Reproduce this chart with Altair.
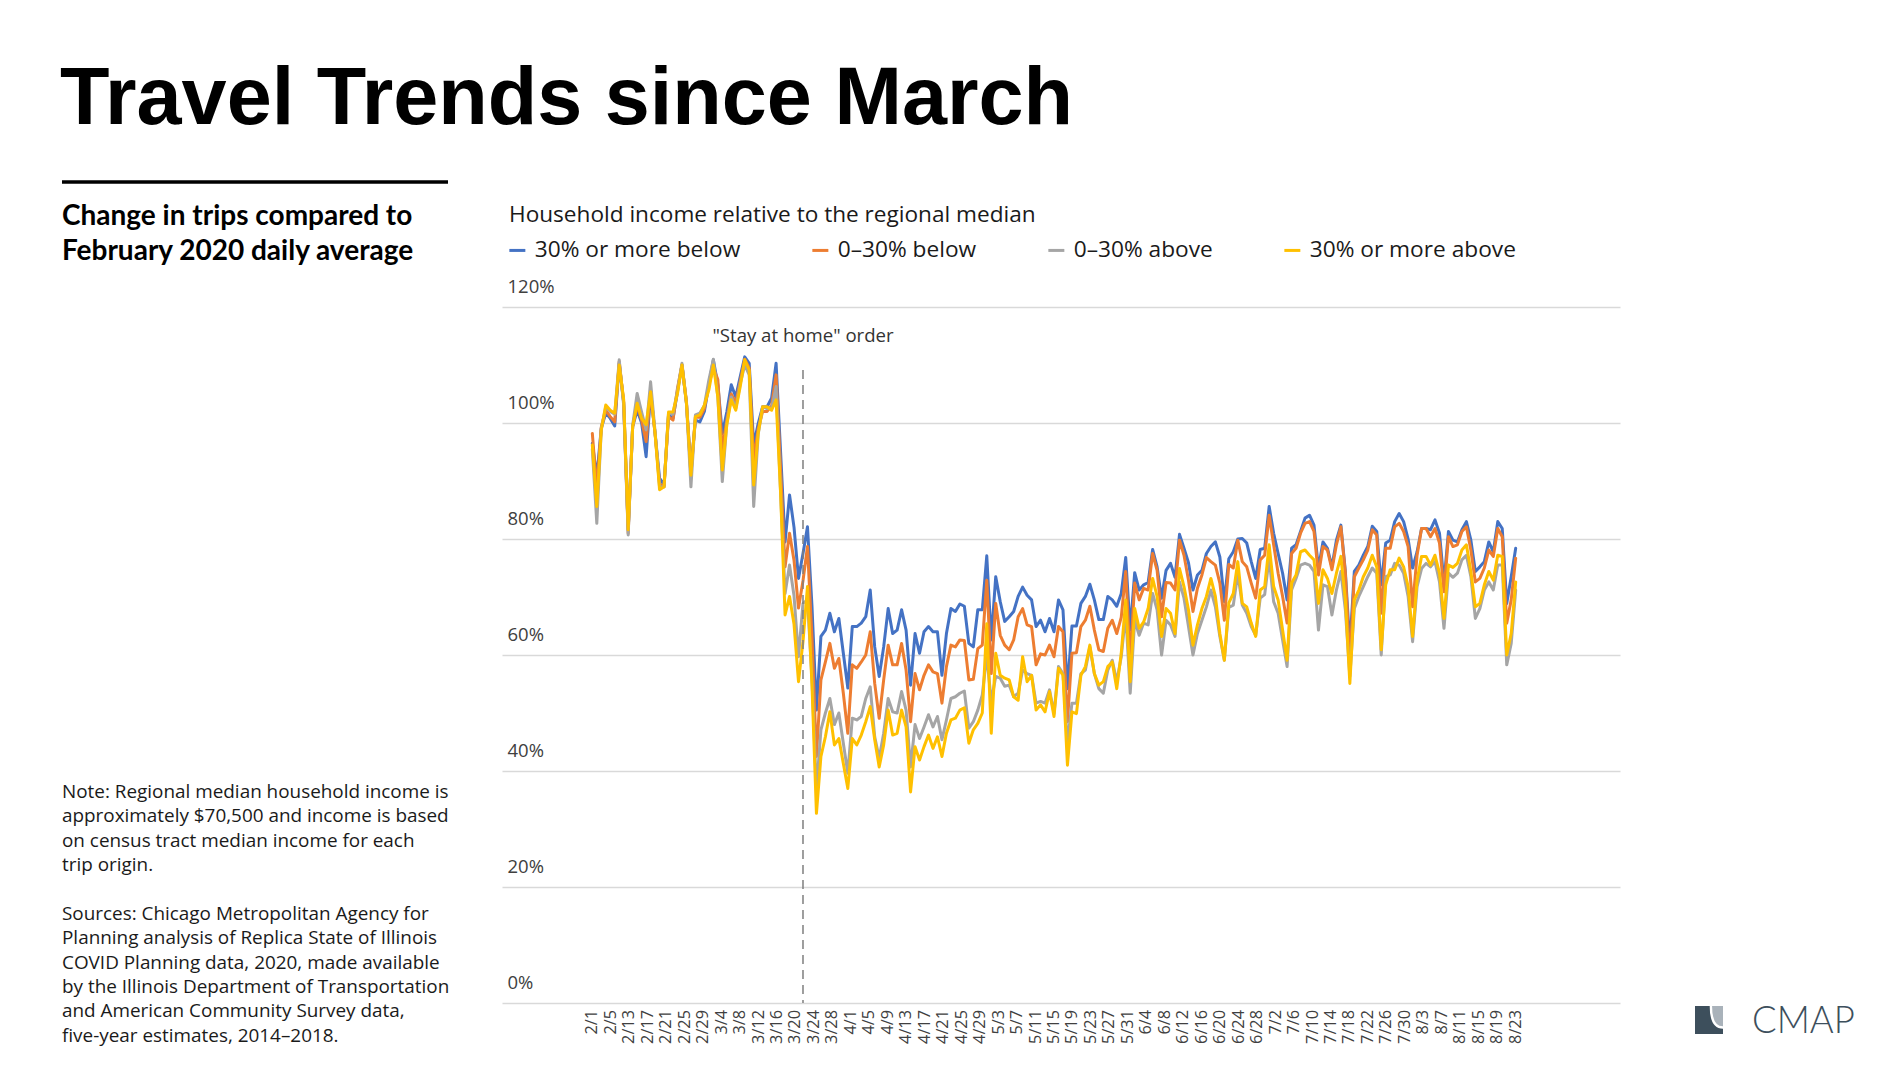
import json
import altair as alt
import pandas as pd

# ---------------- data ----------------
series_names = ["30% or more below", "0–30% below", "0–30% above", "30% or more above"]
series_colors = ["#4472C4", "#ED7D31", "#A5A5A5", "#FFC000"]

blue = [
    96.5, 90.7, 99.1, 101.7, 100.8, 99.5, 110.3, 103.5, 81.5, 99.4,
    102.2, 100.0, 94.2, 105.2, 98.2, 90.5, 89.3, 101.4, 100.8, 105.4,
    110.0, 103.4, 92.0, 100.5, 100.2, 102.0, 106.6, 110.9, 106.6, 98.2,
    101.9, 106.6, 104.5, 108.0, 111.4, 110.3, 96.2, 99.9, 102.8, 102.8,
    104.3, 110.3, 95.0, 79.5, 87.6, 82.0, 73.2, 77.5, 82.1, 68.5,
    50.5, 63.2, 64.3, 67.2, 64.0, 66.3, 60.3, 54.3, 64.9, 64.9,
    65.5, 66.6, 71.2, 61.4, 56.3, 61.4, 68.0, 63.7, 64.3, 67.8,
    64.3, 54.8, 63.7, 60.3, 64.0, 64.9, 64.0, 64.0, 56.5, 63.7,
    68.0, 67.5, 68.8, 68.4, 62.0, 61.4, 67.8, 67.8, 77.1, 62.6,
    73.5, 69.2, 65.8, 66.6, 67.5, 70.1, 71.7, 70.3, 69.5, 64.9,
    66.0, 64.0, 66.3, 64.0, 69.5, 67.8, 54.2, 65.0, 65.0, 68.9,
    70.1, 72.2, 69.5, 66.1, 66.1, 70.1, 69.5, 68.4, 70.6, 76.8,
    64.3, 74.2, 71.2, 72.1, 72.5, 78.2, 75.2, 69.8, 74.6, 75.8,
    73.4, 80.8, 78.4, 75.9, 71.2, 73.8, 74.6, 77.5, 78.7, 79.5,
    76.9, 69.2, 76.6, 77.8, 80.0, 80.1, 79.3, 76.1, 73.2, 78.2,
    78.4, 85.6, 81.0, 77.5, 74.1, 69.5, 78.4, 79.0, 81.3, 83.6,
    84.1, 82.4, 74.9, 79.5, 78.4, 75.2, 79.8, 82.4, 74.4, 61.4,
    74.4, 75.5, 77.2, 78.7, 82.2, 81.3, 72.1, 79.3, 79.8, 83.0,
    84.4, 83.0, 80.0, 75.0, 77.8, 81.8, 81.8, 81.6, 83.3, 81.0,
    72.4, 81.3, 79.8, 79.5, 81.6, 83.0, 79.8, 74.4, 75.2, 76.1,
    79.5, 77.8, 83.0, 81.8, 68.9, 73.5, 78.4,
]

orange = [
    98.2, 88.5, 99.3, 102.2, 101.1, 100.2, 110.6, 103.5, 81.0, 99.4,
    103.0, 100.5, 96.8, 105.4, 98.2, 89.5, 89.0, 101.1, 100.5, 106.0,
    110.0, 103.7, 91.0, 101.0, 101.0, 102.5, 106.6, 109.5, 107.5, 95.4,
    100.5, 105.0, 103.5, 107.2, 111.0, 109.5, 93.6, 99.0, 102.0, 102.0,
    103.0, 108.3, 92.0, 75.2, 81.0, 76.3, 68.1, 72.8, 78.7, 63.0,
    42.5, 55.7, 58.8, 62.0, 57.7, 59.4, 53.4, 46.5, 58.3, 57.7,
    58.8, 60.0, 64.0, 55.1, 49.1, 55.7, 61.7, 58.3, 58.3, 62.0,
    57.4, 48.5, 56.8, 54.0, 56.5, 58.3, 57.1, 56.8, 51.7, 58.0,
    61.7, 61.4, 62.6, 62.5, 55.7, 55.8, 61.1, 61.7, 72.9, 56.8,
    68.9, 63.4, 61.7, 60.9, 62.6, 66.6, 68.0, 65.2, 64.9, 58.3,
    60.2, 60.0, 61.7, 59.7, 64.9, 64.0, 48.5, 60.3, 60.4, 64.9,
    66.0, 68.4, 64.3, 60.9, 60.6, 64.6, 66.0, 63.7, 66.5, 74.4,
    59.1, 72.4, 69.5, 71.5, 71.2, 77.5, 74.6, 66.6, 72.5, 72.4,
    71.2, 79.8, 77.2, 72.9, 67.5, 71.5, 73.8, 76.8, 76.1, 75.5,
    72.4, 66.0, 75.6, 75.0, 79.8, 76.1, 75.2, 72.4, 69.8, 76.4,
    77.2, 84.1, 79.0, 74.1, 70.1, 65.5, 77.5, 78.4, 81.0, 82.7,
    83.0, 81.3, 73.8, 78.7, 78.1, 74.7, 79.0, 82.1, 74.1, 58.6,
    73.5, 75.0, 76.4, 78.1, 81.6, 80.7, 67.2, 78.4, 78.4, 82.1,
    82.7, 81.3, 78.7, 68.3, 77.2, 81.8, 81.8, 80.4, 81.8, 79.3,
    70.9, 80.4, 78.7, 79.0, 81.3, 82.1, 78.1, 72.6, 73.2, 75.0,
    78.1, 77.0, 81.8, 80.4, 65.5, 69.5, 76.7,
]

gray = [
    95.5, 82.7, 99.0, 102.8, 102.0, 101.5, 110.9, 103.0, 80.7, 99.6,
    105.1, 101.9, 98.8, 107.1, 98.5, 89.0, 89.0, 101.7, 101.5, 105.7,
    110.3, 103.4, 89.0, 101.4, 101.7, 103.0, 107.4, 111.0, 104.5, 89.9,
    99.9, 104.5, 102.5, 106.8, 110.0, 108.3, 85.6, 98.0, 102.8, 102.5,
    102.5, 106.3, 88.0, 70.6, 75.5, 70.2, 59.7, 68.9, 69.5, 55.9,
    36.7, 47.1, 50.0, 52.5, 48.0, 50.0, 44.8, 39.6, 49.1, 48.8,
    49.4, 52.5, 54.5, 45.9, 42.2, 46.5, 52.5, 50.2, 50.0, 53.7,
    50.5, 40.7, 48.0, 45.6, 47.6, 49.7, 47.6, 49.4, 45.4, 48.8,
    52.5, 52.8, 53.4, 53.8, 47.4, 48.5, 50.5, 53.1, 60.0, 52.0,
    56.3, 56.0, 54.6, 54.8, 52.8, 53.4, 57.4, 56.8, 56.5, 51.7,
    52.0, 51.7, 54.0, 49.9, 58.0, 56.8, 44.8, 51.7, 51.7, 56.8,
    57.4, 61.4, 56.8, 54.2, 53.4, 57.4, 59.1, 55.4, 59.7, 67.2,
    53.4, 66.0, 63.4, 65.5, 65.2, 70.6, 67.8, 60.0, 66.0, 65.2,
    63.2, 72.6, 69.8, 64.9, 60.0, 63.7, 66.0, 68.3, 71.2, 68.3,
    63.2, 59.1, 68.2, 68.6, 74.1, 68.6, 67.2, 64.9, 63.4, 69.8,
    70.4, 76.7, 69.2, 67.2, 62.6, 58.0, 71.2, 73.2, 75.5, 75.8,
    75.5, 74.4, 64.3, 72.1, 71.8, 66.9, 71.2, 74.4, 67.8, 56.3,
    68.0, 70.1, 71.8, 73.5, 75.0, 74.1, 60.0, 73.5, 73.8, 75.8,
    75.5, 74.1, 70.1, 62.3, 71.8, 74.9, 75.8, 75.2, 76.1, 72.6,
    64.6, 74.1, 73.4, 74.1, 76.4, 77.2, 73.5, 66.3, 68.0, 71.2,
    72.6, 71.2, 75.5, 75.5, 58.3, 62.0, 71.2,
]

yellow = [
    96.2, 85.6, 98.8, 103.1, 102.2, 101.7, 110.0, 104.0, 81.6, 99.4,
    103.4, 100.8, 99.7, 105.4, 98.2, 88.5, 89.0, 101.9, 101.9, 105.1,
    110.0, 103.4, 91.0, 101.1, 101.4, 103.1, 105.7, 110.0, 104.5, 91.9,
    99.7, 104.0, 102.2, 106.3, 110.9, 109.1, 89.3, 98.2, 102.8, 102.8,
    102.2, 104.0, 88.0, 66.9, 70.1, 65.3, 55.4, 62.3, 71.8, 54.9,
    32.7, 42.5, 45.9, 50.2, 44.5, 45.6, 41.3, 37.0, 45.6, 44.5,
    46.2, 48.5, 51.1, 45.4, 40.7, 44.5, 50.5, 46.2, 46.5, 50.5,
    47.6, 36.4, 44.2, 41.9, 44.2, 46.2, 43.9, 45.9, 42.5, 46.5,
    48.8, 49.1, 50.5, 50.9, 44.8, 47.1, 48.2, 50.0, 65.4, 46.5,
    60.3, 56.5, 56.0, 55.7, 52.8, 52.2, 59.7, 55.4, 56.5, 50.5,
    51.4, 50.2, 53.7, 49.4, 57.7, 56.5, 41.0, 50.2, 49.9, 56.5,
    58.0, 61.7, 56.8, 54.8, 55.4, 58.0, 58.8, 54.2, 60.3, 69.5,
    55.4, 68.0, 64.6, 65.7, 68.0, 73.2, 70.1, 63.2, 68.0, 67.2,
    63.7, 74.9, 71.8, 67.8, 61.7, 65.2, 68.0, 70.1, 73.2, 70.1,
    63.7, 59.1, 69.0, 70.6, 76.1, 68.9, 68.3, 65.5, 63.2, 71.2,
    71.8, 79.0, 71.8, 69.5, 64.3, 59.1, 72.4, 73.8, 77.8, 78.1,
    77.2, 76.4, 68.9, 74.7, 73.2, 70.6, 74.1, 77.0, 69.5, 55.1,
    69.5, 71.2, 73.5, 75.0, 77.2, 75.2, 60.9, 72.1, 74.7, 74.7,
    76.7, 75.2, 71.8, 63.2, 72.9, 77.0, 77.0, 75.5, 77.2, 74.1,
    66.3, 75.5, 75.1, 75.8, 78.1, 79.0, 74.4, 68.3, 68.9, 72.1,
    74.4, 72.9, 77.2, 77.0, 60.0, 63.7, 72.6,
]

tick_labels = [
    "2/1", "2/5", "2/13", "2/17", "2/21", "2/25", "2/29",
    "3/4", "3/8", "3/12", "3/16", "3/20", "3/24", "3/28",
    "4/1", "4/5", "4/9", "4/13", "4/17", "4/21", "4/25", "4/29",
    "5/3", "5/7", "5/11", "5/15", "5/19", "5/23", "5/27", "5/31",
    "6/4", "6/8", "6/12", "6/16", "6/20", "6/24", "6/28",
    "7/2", "7/6", "7/10", "7/14", "7/18", "7/22", "7/26", "7/30",
    "8/3", "8/7", "8/11", "8/15", "8/19", "8/23",
]
y_ticks = [0, 20, 40, 60, 80, 100, 120]

title_text = "Travel Trends since March"
subtitle_lines = ["Change in trips compared to", "February 2020 daily average"]
legend_title = "Household income relative to the regional median"
note_lines = [
    "Note: Regional median household income is",
    "approximately $70,500 and income is based",
    "on census tract median income for each",
    "trip origin.",
]
source_lines = [
    "Sources: Chicago Metropolitan Agency for",
    "Planning analysis of Replica State of Illinois",
    "COVID Planning data, 2020, made available",
    "by the Illinois Department of Transportation",
    "and American Community Survey data,",
    "five-year estimates, 2014\u20132018.",
]
event_label = '"Stay at home" order'
event_day = 47  # index of the "Stay at home" marker

# ---------------- build tables ----------------
n_days = len(blue)
rows = []
for name, vals in zip(series_names, [blue, orange, gray, yellow]):
    for i, v in enumerate(vals):
        rows.append({"day": i, "value": v, "series": name})
df = pd.DataFrame(rows)
ann = pd.DataFrame({"k": [0]})

n_last = n_days - 1
n_lab = len(tick_labels) - 1
xlab_df = pd.DataFrame({
    "day": [k * n_last / n_lab for k in range(n_lab + 1)],
    "label": tick_labels,
})

W, H = 1118, 696
FONT = "Open Sans"
TXT = "#1a1a1a"
XSCALE = alt.Scale(domain=[-20.15, 229.27], nice=False, zero=False)

y_enc = alt.Y(
    "value:Q",
    scale=alt.Scale(domain=[0, 120], nice=False),
    axis=alt.Axis(
        values=y_ticks, labelExpr="datum.value + '%'", orient="left",
        labelAlign="left", labelBaseline="alphabetic", labelPadding=-5,
        labelOffset=-15, tickSize=0, ticks=False, domain=False, grid=True,
        gridColor="#d9d9d9", gridWidth=1.5, labelFont=FONT, labelFontSize=18.5,
        labelColor="#404040", title=None, labelFlush=False,
    ),
)

lines = alt.Chart(df).mark_line(strokeWidth=3, strokeJoin="round", strokeCap="round").encode(
    x=alt.X("day:Q", scale=XSCALE, axis=None),
    y=y_enc,
    color=alt.Color(
        "series:N", sort=series_names,
        scale=alt.Scale(domain=series_names, range=series_colors),
        legend=alt.Legend(
            title=legend_title, orient="none", legendX=7, legendY=-103,
            direction="horizontal", titleFont=FONT, titleFontSize=22.6,
            titleFontWeight=500, titleColor=TXT, titlePadding=12,
            titleLimit=900, labelFont=FONT, labelFontSize=22.7, labelColor=TXT,
            labelLimit=400, symbolType="stroke", symbolStrokeWidth=3,
            symbolSize=256, symbolOffset=-3, labelOffset=6, columnPadding=65,
            padding=0,
        ),
    ),
)

x_labels = alt.Chart(xlab_df).mark_text(
    angle=270, align="right", baseline="middle", font=FONT, fontSize=16.3, color="#404040"
).encode(x=alt.X("day:Q", scale=XSCALE, axis=None), y=alt.value(H + 7), text="label:N")

event_rule = alt.Chart(ann).mark_rule(strokeDash=[9, 6], color="#7f7f7f", strokeWidth=1.5).encode(
    x=alt.datum(event_day), y=alt.value(63), y2=alt.value(H)
)
event_text = alt.Chart(ann).mark_text(
    text=event_label, font=FONT, fontSize=18.6, align="center", baseline="alphabetic", color="#333333"
).encode(x=alt.datum(event_day), y=alt.value(35))

title = alt.Chart(ann).mark_text(
    text=title_text, font="Liberation Sans", fontSize=81, fontWeight="bold",
    align="left", baseline="alphabetic", color="#000000",
).encode(x=alt.value(-442), y=alt.value(-183))

title_rule = alt.Chart(ann).mark_rule(color="#000000", strokeWidth=3.5).encode(
    x=alt.value(-440), x2=alt.value(-54), y=alt.value(-125)
)

subtitle = alt.Chart(ann).mark_text(
    text=subtitle_lines, font="Lato", fontSize=28, fontWeight="bold", lineHeight=35,
    align="left", baseline="alphabetic", color="#000000",
).encode(x=alt.value(-440), y=alt.value(-82))

notes = alt.Chart(ann).mark_text(
    text=note_lines, font=FONT, fontSize=18.9, lineHeight=24.3,
    align="left", baseline="alphabetic", color=TXT,
).encode(x=alt.value(-440), y=alt.value(491))

sources = alt.Chart(ann).mark_text(
    text=source_lines, font=FONT, fontSize=18.9, lineHeight=24.3,
    align="left", baseline="alphabetic", color=TXT,
).encode(x=alt.value(-440), y=alt.value(613))

dark_path = "M -1 -1 L 0.05 -1 Q 0.05 0.63 1 0.63 L 1 1 L -1 1 Z"
light_path = "M 0.22 -1 L 1 -1 L 1 0.45 Q 0.22 0.45 0.22 -1 Z"
logo_dark = alt.Chart(ann).mark_point(
    shape=dark_path, size=784, filled=True, color="#3d4f5c", opacity=1, strokeWidth=0
).encode(x=alt.value(1207), y=alt.value(713))
logo_light = alt.Chart(ann).mark_point(
    shape=light_path, size=784, filled=True, color="#a9b2ba", opacity=1, strokeWidth=0
).encode(x=alt.value(1207), y=alt.value(713))
logo_text = alt.Chart(ann).mark_text(
    text="CMAP", font="Lato", fontSize=36.5, fontWeight=300, align="left",
    baseline="alphabetic", color="#3d4f5c",
).encode(x=alt.value(1250), y=alt.value(726))

chart = alt.layer(
    lines, x_labels, event_rule, event_text, title, title_rule, subtitle, notes, sources,
    logo_dark, logo_light, logo_text,
).properties(
    width=W, height=H,
    autosize=alt.AutoSizeParams(type="none"),
    padding={"left": 494, "top": 299, "right": 249, "bottom": 60},
    background="white",
).configure_view(stroke="transparent")

chart.save("out.html", embed_options={"renderer": "svg", "actions": False})
